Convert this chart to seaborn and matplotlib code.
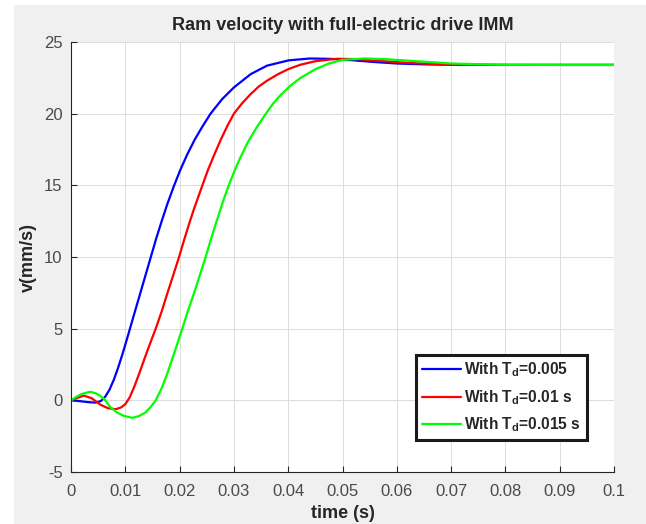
import numpy as np
import pandas as pd
import matplotlib
matplotlib.use("Agg")
import matplotlib.pyplot as plt
from matplotlib.patches import Rectangle
import seaborn as sns

# Valores
t_blue = [0, 0.0015, 0.003, 0.0045, 0.0055, 0.0063, 0.0071, 0.0079, 0.0087,
          0.0095, 0.0104, 0.0113, 0.0122, 0.0131, 0.0139, 0.0147, 0.0157,
          0.0167, 0.0177, 0.0189, 0.0201, 0.0214, 0.0228, 0.0242, 0.0257,
          0.0278, 0.0300, 0.0331, 0.0361, 0.0401, 0.0440, 0.0480, 0.0520,
          0.0560, 0.0600, 0.0650, 0.0700, 0.0800, 0.0900, 0.1000]
v_blue = [0, -0.05, -0.12, -0.16, -0.05, 0.25, 0.75, 1.45, 2.3,
          3.25, 4.4, 5.58, 6.75, 7.92, 8.96, 10.0, 11.3,
          12.5, 13.65, 14.9, 16.05, 17.15, 18.2, 19.1, 20.0,
          21.0, 21.83, 22.76, 23.35, 23.72, 23.85, 23.82, 23.72,
          23.6, 23.5, 23.44, 23.41, 23.4, 23.4, 23.4]

t_red = [0, 0.001, 0.00236, 0.0038, 0.0054, 0.0068, 0.0082, 0.0092, 0.0100,
         0.0108, 0.0116, 0.0125, 0.0134, 0.0145, 0.0156, 0.0167, 0.0177,
         0.0188, 0.0199, 0.0208, 0.0217, 0.0226, 0.0234, 0.0242, 0.0252,
         0.0264, 0.0276, 0.0288, 0.0300, 0.0315, 0.0331, 0.0346, 0.0361,
         0.0381, 0.0401, 0.0423, 0.0450, 0.0490, 0.0530, 0.0570, 0.0610,
         0.0650, 0.0700, 0.0750, 0.0800, 0.0900, 0.1000]
v_red = [0, 0.15, 0.33, 0.15, -0.3, -0.55, -0.62, -0.5, -0.27,
         0.2, 0.9, 1.8, 2.76, 3.9, 5.0, 6.2, 7.41,
         8.7, 10.0, 11.15, 12.25, 13.3, 14.15, 15.0, 16.05,
         17.15, 18.2, 19.15, 20.0, 20.72, 21.37, 21.9, 22.3,
         22.75, 23.12, 23.42, 23.66, 23.83, 23.8, 23.68, 23.57,
         23.49, 23.43, 23.41, 23.4, 23.4, 23.4]

t_green = [0, 0.001, 0.002, 0.0035, 0.0045, 0.0054, 0.0062, 0.0073, 0.0085,
           0.0097, 0.0113, 0.0125, 0.0137, 0.0147, 0.0156, 0.0167, 0.0177,
           0.0191, 0.0205, 0.0215, 0.0226, 0.0237, 0.0248, 0.0257, 0.0266,
           0.0273, 0.0281, 0.0291, 0.0301, 0.0312, 0.0327, 0.0343, 0.0358,
           0.0372, 0.0386, 0.0404, 0.0423, 0.0450, 0.0475, 0.0500, 0.0540,
           0.0580, 0.0620, 0.0660, 0.0700, 0.0750, 0.0800, 0.0900, 0.1000]
v_green = [0, 0.25, 0.45, 0.6, 0.5, 0.31, 0.05, -0.5, -0.85,
           -1.08, -1.22, -1.1, -0.85, -0.45, 0.0, 0.85, 1.83,
           3.4, 5.0, 6.2, 7.41, 8.7, 10.0, 11.15, 12.25,
           13.05, 14.0, 15.05, 16.0, 16.95, 18.1, 19.1, 19.95,
           20.7, 21.3, 21.95, 22.5, 23.1, 23.5, 23.75, 23.85,
           23.8, 23.7, 23.6, 23.5, 23.45, 23.41, 23.4, 23.4]

labels = [r'With T$_{\mathbf{d}}$=0.005',
          r'With T$_{\mathbf{d}}$=0.01 s',
          r'With T$_{\mathbf{d}}$=0.015 s']
colors = ['#0000ff', '#ff0000', '#00ff00']

x_ticks = [0, 0.01, 0.02, 0.03, 0.04, 0.05, 0.06, 0.07, 0.08, 0.09, 0.1]
x_ticklabels = ['0', '0.01', '0.02', '0.03', '0.04', '0.05', '0.06', '0.07',
                '0.08', '0.09', '0.1']
y_ticks = [-5, 0, 5, 10, 15, 20, 25]

df = pd.concat([
    pd.DataFrame({'t': t_blue, 'v': v_blue, 'serie': labels[0]}),
    pd.DataFrame({'t': t_red, 'v': v_red, 'serie': labels[1]}),
    pd.DataFrame({'t': t_green, 'v': v_green, 'serie': labels[2]}),
], ignore_index=True)

sns.set_style('ticks')
plt.rcParams['font.family'] = ['Liberation Sans', 'DejaVu Sans']
plt.rcParams['mathtext.fontset'] = 'custom'
plt.rcParams['mathtext.bf'] = 'Liberation Sans:bold'
plt.rcParams['mathtext.rm'] = 'Liberation Sans'
plt.rcParams['axes.unicode_minus'] = False

fig = plt.figure(figsize=(6.46, 5.24), dpi=100, facecolor='#f0f0f0')
# bordas brancas do print original
fig.patches.append(Rectangle((0, 0), 14 / 646, 1, transform=fig.transFigure,
                             facecolor='white', edgecolor='none', zorder=-1))
fig.patches.append(Rectangle((0, 1 - 5 / 524), 1, 5 / 524, transform=fig.transFigure,
                             facecolor='white', edgecolor='none', zorder=-1))
ax = fig.add_axes([71 / 646, 52 / 524, 543 / 646, 430 / 524])
ax.set_facecolor('white')

sns.lineplot(data=df, x='t', y='v', hue='serie', palette=colors, sort=False,
             estimator=None, linewidth=1.6, ax=ax, legend=False)

ax.set_xlim(0, 0.1)
ax.set_ylim(-5, 25)
ax.set_xticks(x_ticks)
ax.set_xticklabels(x_ticklabels)
ax.set_yticks(y_ticks)
ax.grid(True, color='#dcdcdc', linewidth=0.7)
ax.set_axisbelow(True)

for s in ['top', 'right']:
    ax.spines[s].set_visible(False)
for s in ['left', 'bottom']:
    ax.spines[s].set_color('#262626')
    ax.spines[s].set_linewidth(0.8)
ax.tick_params(direction='in', length=4, width=0.8, colors='#262626',
               labelsize=12, labelcolor='#4a4a4a')
ax.tick_params(axis='x', pad=9)
ax.tick_params(axis='y', pad=6)

ax.set_title('Ram velocity with full-electric drive IMM', fontsize=13,
             fontweight='bold', pad=9)
ax.set_xlabel('time (s)', fontsize=13, fontweight='bold', labelpad=4)
ax.set_ylabel('v(mm/s)', fontsize=13, fontweight='bold', labelpad=5)

handles = [plt.Line2D([], [], color=c, linewidth=1.6) for c in colors]
leg = ax.legend(handles, labels, loc='lower right', bbox_to_anchor=(0.95, 0.074),
                borderaxespad=0, fancybox=False, framealpha=1, handlelength=2.5,
                handletextpad=0.2, labelspacing=0.55, borderpad=0.4,
                prop={'weight': 'bold', 'size': 11.2})
leg.get_frame().set_edgecolor('#1a1a1a')
leg.get_frame().set_linewidth(2.2)

fig.savefig('out.png', dpi=100, facecolor=fig.get_facecolor())
